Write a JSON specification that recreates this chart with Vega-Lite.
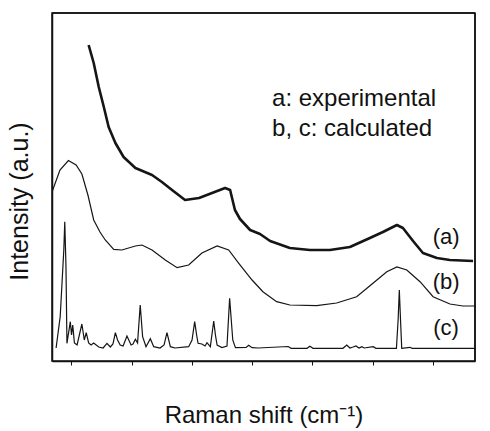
{
  "$schema": "https://vega.github.io/schema/vega-lite/v6.json",
  "width": 423,
  "height": 348,
  "autosize": "none",
  "padding": {"left": 52, "top": 13, "right": 15, "bottom": 70},
  "background": "white",
  "config": {
    "view": {"stroke": "#111", "strokeWidth": 1.5},
    "font": "Liberation Sans"
  },
  "datasets": {
    "spectra": [
      {"s": "a", "x": 197, "y": 316}, {"s": "a", "x": 218, "y": 298}, {"s": "a", "x": 239, "y": 274}, {"s": "a", "x": 260, "y": 254},
      {"s": "a", "x": 280, "y": 234}, {"s": "a", "x": 308, "y": 218}, {"s": "a", "x": 342, "y": 204}, {"s": "a", "x": 391, "y": 193},
      {"s": "a", "x": 460, "y": 186}, {"s": "a", "x": 501, "y": 179}, {"s": "a", "x": 543, "y": 171}, {"s": "a", "x": 597, "y": 161},
      {"s": "a", "x": 655, "y": 163}, {"s": "a", "x": 709, "y": 168}, {"s": "a", "x": 763, "y": 173}, {"s": "a", "x": 784, "y": 171},
      {"s": "a", "x": 804, "y": 151}, {"s": "a", "x": 825, "y": 142}, {"s": "a", "x": 867, "y": 131}, {"s": "a", "x": 908, "y": 127},
      {"s": "a", "x": 950, "y": 120}, {"s": "a", "x": 1032, "y": 113}, {"s": "a", "x": 1115, "y": 111}, {"s": "a", "x": 1198, "y": 111},
      {"s": "a", "x": 1281, "y": 114}, {"s": "a", "x": 1364, "y": 123}, {"s": "a", "x": 1418, "y": 129}, {"s": "a", "x": 1476, "y": 136},
      {"s": "a", "x": 1501, "y": 133}, {"s": "a", "x": 1543, "y": 120}, {"s": "a", "x": 1584, "y": 108}, {"s": "a", "x": 1642, "y": 103},
      {"s": "a", "x": 1696, "y": 101}, {"s": "a", "x": 1792, "y": 100},

      {"s": "b", "x": 45, "y": 169}, {"s": "b", "x": 78, "y": 191}, {"s": "b", "x": 113, "y": 200.5}, {"s": "b", "x": 145, "y": 196},
      {"s": "b", "x": 169, "y": 187}, {"s": "b", "x": 194, "y": 166}, {"s": "b", "x": 218, "y": 141}, {"s": "b", "x": 244, "y": 129},
      {"s": "b", "x": 266, "y": 121}, {"s": "b", "x": 301, "y": 111.7}, {"s": "b", "x": 335, "y": 111}, {"s": "b", "x": 391, "y": 115},
      {"s": "b", "x": 418, "y": 116}, {"s": "b", "x": 460, "y": 111}, {"s": "b", "x": 515, "y": 101}, {"s": "b", "x": 564, "y": 93.3},
      {"s": "b", "x": 612, "y": 96}, {"s": "b", "x": 667, "y": 108}, {"s": "b", "x": 730, "y": 115}, {"s": "b", "x": 778, "y": 111},
      {"s": "b", "x": 820, "y": 97.7}, {"s": "b", "x": 875, "y": 81}, {"s": "b", "x": 920, "y": 69.3}, {"s": "b", "x": 977, "y": 59.3},
      {"s": "b", "x": 1032, "y": 56}, {"s": "b", "x": 1143, "y": 55.3}, {"s": "b", "x": 1226, "y": 58}, {"s": "b", "x": 1309, "y": 64.3},
      {"s": "b", "x": 1378, "y": 78}, {"s": "b", "x": 1434, "y": 89.3}, {"s": "b", "x": 1476, "y": 94}, {"s": "b", "x": 1517, "y": 91},
      {"s": "b", "x": 1572, "y": 79.3}, {"s": "b", "x": 1626, "y": 64.3}, {"s": "b", "x": 1696, "y": 57}, {"s": "b", "x": 1750, "y": 55},
      {"s": "b", "x": 1800, "y": 55},

      {"s": "c", "x": 62, "y": 13}, {"s": "c", "x": 79, "y": 44.3}, {"s": "c", "x": 94, "y": 111}, {"s": "c", "x": 98, "y": 139.3},
      {"s": "c", "x": 103, "y": 94.3}, {"s": "c", "x": 107, "y": 17.7}, {"s": "c", "x": 121, "y": 39.3}, {"s": "c", "x": 126, "y": 26},
      {"s": "c", "x": 131, "y": 36}, {"s": "c", "x": 138, "y": 18}, {"s": "c", "x": 149, "y": 16}, {"s": "c", "x": 169, "y": 37},
      {"s": "c", "x": 179, "y": 21}, {"s": "c", "x": 187, "y": 28.3}, {"s": "c", "x": 197, "y": 18}, {"s": "c", "x": 207, "y": 16},
      {"s": "c", "x": 218, "y": 18}, {"s": "c", "x": 239, "y": 14}, {"s": "c", "x": 257, "y": 13}, {"s": "c", "x": 273, "y": 17.7},
      {"s": "c", "x": 287, "y": 14}, {"s": "c", "x": 298, "y": 17}, {"s": "c", "x": 308, "y": 28.3}, {"s": "c", "x": 317, "y": 21},
      {"s": "c", "x": 328, "y": 16}, {"s": "c", "x": 340, "y": 15}, {"s": "c", "x": 356, "y": 25}, {"s": "c", "x": 373, "y": 16},
      {"s": "c", "x": 381, "y": 17}, {"s": "c", "x": 391, "y": 21.7}, {"s": "c", "x": 400, "y": 18}, {"s": "c", "x": 411, "y": 56},
      {"s": "c", "x": 421, "y": 24.3}, {"s": "c", "x": 435, "y": 14.3}, {"s": "c", "x": 453, "y": 22.3}, {"s": "c", "x": 467, "y": 14.3},
      {"s": "c", "x": 493, "y": 13}, {"s": "c", "x": 510, "y": 16}, {"s": "c", "x": 522, "y": 28.3}, {"s": "c", "x": 536, "y": 14.3},
      {"s": "c", "x": 555, "y": 13}, {"s": "c", "x": 612, "y": 14.3}, {"s": "c", "x": 626, "y": 21}, {"s": "c", "x": 637, "y": 39.3},
      {"s": "c", "x": 645, "y": 26}, {"s": "c", "x": 651, "y": 17.7}, {"s": "c", "x": 667, "y": 17}, {"s": "c", "x": 680, "y": 15},
      {"s": "c", "x": 688, "y": 18.3}, {"s": "c", "x": 702, "y": 14.3}, {"s": "c", "x": 716, "y": 40}, {"s": "c", "x": 723, "y": 26},
      {"s": "c", "x": 730, "y": 16}, {"s": "c", "x": 750, "y": 13.5}, {"s": "c", "x": 771, "y": 15}, {"s": "c", "x": 782, "y": 62.7},
      {"s": "c", "x": 795, "y": 21}, {"s": "c", "x": 806, "y": 13.3}, {"s": "c", "x": 850, "y": 13.5}, {"s": "c", "x": 861, "y": 15.7},
      {"s": "c", "x": 875, "y": 13.3}, {"s": "c", "x": 900, "y": 13}, {"s": "c", "x": 1025, "y": 14.5}, {"s": "c", "x": 1037, "y": 12.7},
      {"s": "c", "x": 1103, "y": 12.7}, {"s": "c", "x": 1115, "y": 14.7}, {"s": "c", "x": 1128, "y": 12.7}, {"s": "c", "x": 1252, "y": 12.7},
      {"s": "c", "x": 1268, "y": 16}, {"s": "c", "x": 1281, "y": 13}, {"s": "c", "x": 1294, "y": 14}, {"s": "c", "x": 1306, "y": 15},
      {"s": "c", "x": 1319, "y": 13}, {"s": "c", "x": 1331, "y": 14.3}, {"s": "c", "x": 1340, "y": 13}, {"s": "c", "x": 1378, "y": 14.3},
      {"s": "c", "x": 1389, "y": 12.7}, {"s": "c", "x": 1474, "y": 12.7}, {"s": "c", "x": 1481, "y": 41}, {"s": "c", "x": 1486, "y": 71},
      {"s": "c", "x": 1491, "y": 41}, {"s": "c", "x": 1496, "y": 12.7}, {"s": "c", "x": 1530, "y": 13.7}, {"s": "c", "x": 1539, "y": 12.7},
      {"s": "c", "x": 1800, "y": 12.7}
    ],
    "notes": [
      {"x": 958, "y": 255, "t": "a: experimental"},
      {"x": 958, "y": 225, "t": "b, c: calculated"}
    ],
    "tags": [
      {"x": 1680, "y": 124, "t": "(a)"},
      {"x": 1680, "y": 79, "t": "(b)"},
      {"x": 1680, "y": 33, "t": "(c)"}
    ],
    "edges": [
      {"x": 1800, "y": 348}
    ]
  },
  "layer": [
    {
      "data": {"name": "spectra"},
      "transform": [{"filter": "datum.s == 'a'"}],
      "mark": {"type": "line", "color": "#151515", "clip": true, "strokeWidth": 2.6, "strokeJoin": "round"},
      "encoding": {
        "x": {
          "field": "x", "type": "quantitative",
          "scale": {"domain": [45, 1800], "nice": false, "zero": false},
          "axis": {
            "title": "Raman shift (cm⁻¹)",
            "values": [125, 250, 375, 500, 625, 750, 875, 1000, 1125, 1250, 1375, 1500, 1625, 1750],
            "format": "d",
            "labelExpr": "datum.value % 250 == 0 ? datum.label : ''",
            "grid": false,
            "domainColor": "#111", "domainWidth": 1.5,
            "tickColor": "#111", "tickSize": 4, "tickWidth": 1,
            "labelFont": "Liberation Sans", "labelFontSize": 19, "labelColor": "#111",
            "labelPadding": 13, "labelFlush": false, "labelOverlap": false,
            "titleFont": "Liberation Sans", "titleFontSize": 24, "titleFontWeight": "normal", "titleColor": "#111",
            "titlePadding": 6
          }
        },
        "y": {
          "field": "y", "type": "quantitative",
          "scale": {"domain": [0, 348], "nice": false, "zero": false},
          "axis": {
            "title": "Intensity (a.u.)",
            "labels": false, "ticks": false, "grid": false,
            "domainColor": "#111", "domainWidth": 1.5,
            "titleFont": "Liberation Sans", "titleFontSize": 25, "titleFontWeight": "normal", "titleColor": "#111",
            "titlePadding": 20, "titleY": 188
          }
        }
      }
    },
    {
      "data": {"name": "spectra"},
      "transform": [{"filter": "datum.s == 'b'"}],
      "mark": {"type": "line", "color": "#151515", "clip": true, "strokeWidth": 1.2},
      "encoding": {
        "x": {"field": "x", "type": "quantitative"},
        "y": {"field": "y", "type": "quantitative"}
      }
    },
    {
      "data": {"name": "spectra"},
      "transform": [{"filter": "datum.s == 'c'"}],
      "mark": {"type": "line", "color": "#151515", "clip": true, "strokeWidth": 1.2},
      "encoding": {
        "x": {"field": "x", "type": "quantitative"},
        "y": {"field": "y", "type": "quantitative"}
      }
    },
    {
      "data": {"name": "edges"},
      "mark": {"type": "rule", "color": "#111", "strokeWidth": 1.5},
      "encoding": {
        "y": {"field": "y", "type": "quantitative"}
      }
    },
    {
      "data": {"name": "edges"},
      "mark": {"type": "rule", "color": "#111", "strokeWidth": 1.5},
      "encoding": {
        "x": {"field": "x", "type": "quantitative"}
      }
    },
    {
      "data": {"name": "notes"},
      "mark": {"type": "text", "align": "left", "baseline": "alphabetic", "font": "Liberation Sans", "fontSize": 24, "color": "#111"},
      "encoding": {
        "x": {"field": "x", "type": "quantitative"},
        "y": {"field": "y", "type": "quantitative"},
        "text": {"field": "t"}
      }
    },
    {
      "data": {"name": "tags"},
      "mark": {"type": "text", "align": "center", "baseline": "middle", "font": "Liberation Sans", "fontSize": 22, "color": "#111"},
      "encoding": {
        "x": {"field": "x", "type": "quantitative"},
        "y": {"field": "y", "type": "quantitative"},
        "text": {"field": "t"}
      }
    }
  ]
}
